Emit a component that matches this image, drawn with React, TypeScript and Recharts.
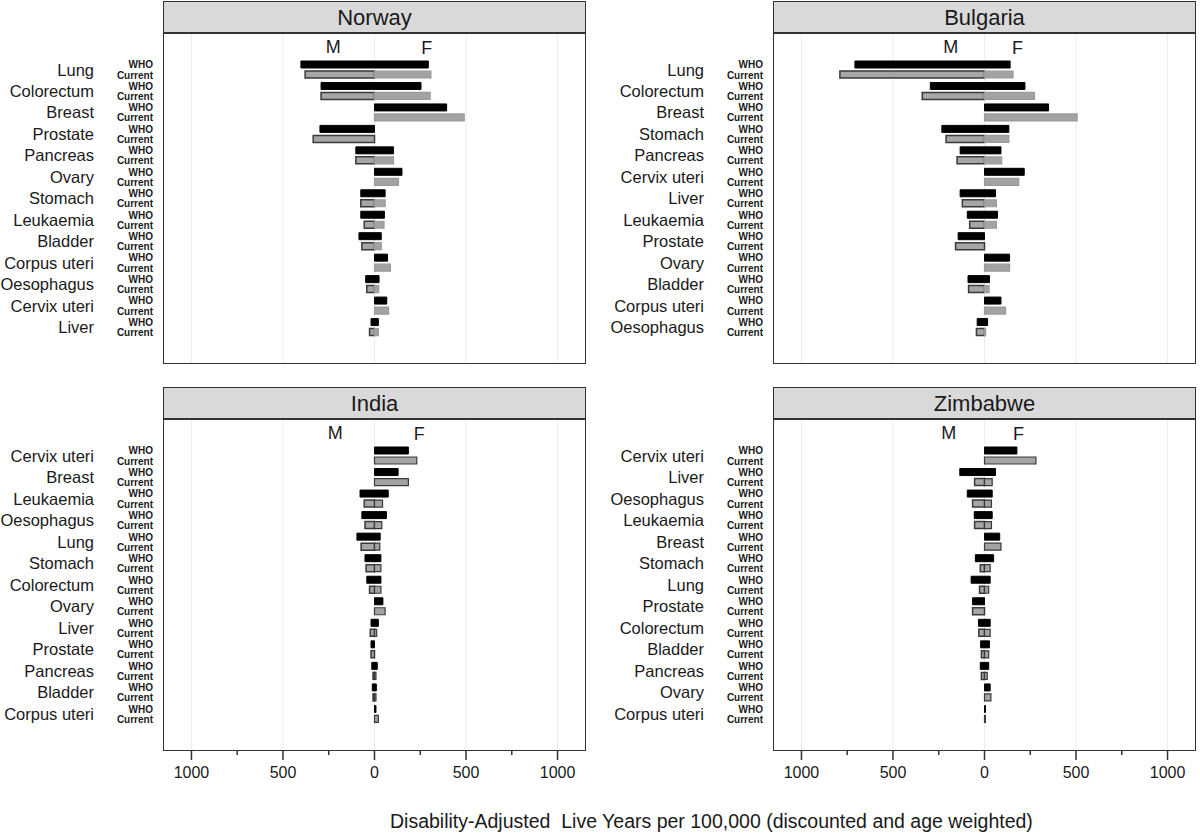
import React from 'react';
import { BarChart, Bar, XAxis, YAxis, CartesianGrid, ReferenceLine } from 'recharts';

const FONT = '"Liberation Sans", Arial, Helvetica, sans-serif';

// ---- data (DALYs per 100,000; male values stored positive, drawn to the left) ----
const norwayCancers = ['Lung', 'Colorectum', 'Breast', 'Prostate', 'Pancreas', 'Ovary', 'Stomach', 'Leukaemia', 'Bladder', 'Corpus uteri', 'Oesophagus', 'Cervix uteri', 'Liver'];
const norwayWhoM = [402, 292, 0, 298, 102, 0, 75, 75, 85, 0, 48, 0, 19];
const norwayWhoF = [294, 254, 394, 0, 104, 150, 58, 54, 37, 71, 25, 67, 21];
const norwayCurM = [379, 292, 0, 335, 102, 0, 75, 56, 69, 0, 42, 0, 27];
const norwayCurF = [308, 304, 490, 0, 104, 131, 58, 52, 37, 87, 23, 77, 21];

const bulgariaCancers = ['Lung', 'Colorectum', 'Breast', 'Stomach', 'Pancreas', 'Cervix uteri', 'Liver', 'Leukaemia', 'Prostate', 'Ovary', 'Bladder', 'Corpus uteri', 'Oesophagus'];
const bulgariaWhoM = [708, 296, 0, 233, 133, 0, 133, 94, 144, 0, 90, 0, 40];
const bulgariaWhoF = [140, 221, 350, 133, 90, 217, 60, 71, 0, 137, 27, 90, 17];
const bulgariaCurM = [790, 340, 0, 210, 150, 0, 121, 81, 158, 0, 87, 0, 44];
const bulgariaCurF = [156, 273, 506, 133, 94, 187, 65, 65, 0, 137, 25, 115, 6];

const indiaCancers = ['Cervix uteri', 'Breast', 'Leukaemia', 'Oesophagus', 'Lung', 'Stomach', 'Colorectum', 'Ovary', 'Liver', 'Prostate', 'Pancreas', 'Bladder', 'Corpus uteri'];
const indiaWhoM = [0, 0, 79, 69, 96, 52, 42, 0, 19, 19, 15, 12, 0];
const indiaWhoF = [185, 129, 75, 65, 31, 35, 35, 46, 21, 0, 15, 10, 8];
const indiaCurM = [0, 0, 56, 52, 73, 46, 27, 0, 23, 19, 8, 8, 0];
const indiaCurF = [231, 185, 44, 40, 29, 35, 35, 58, 12, 0, 8, 8, 21];

const zimbabweCancers = ['Cervix uteri', 'Liver', 'Oesophagus', 'Leukaemia', 'Breast', 'Stomach', 'Lung', 'Prostate', 'Colorectum', 'Bladder', 'Pancreas', 'Ovary', 'Corpus uteri'];
const zimbabweWhoM = [0, 135, 94, 56, 0, 50, 73, 65, 33, 21, 23, 0, 0];
const zimbabweWhoF = [177, 60, 42, 42, 83, 50, 31, 0, 31, 27, 23, 31, 5];
const zimbabweCurM = [0, 54, 65, 54, 0, 23, 27, 65, 31, 17, 17, 0, 0];
const zimbabweCurF = [281, 42, 38, 38, 90, 31, 23, 0, 31, 23, 15, 35, 5];

const xTicks = [-1000, -750, -500, -250, 0, 250, 500, 750, 1000];
const gridValues = [-1000, -500, 0, 500, 1000];
const xDomain = [-1150, 1150];
const rowLabels = ['WHO', 'Current'];
const axisTitle = 'Disability-Adjusted  Live Years per 100,000 (discounted and age weighted)';

// M / F annotation positions (data units) per panel
const mfNorway = [-226, 286];
const mfBulgaria = [-184, 180];
const mfIndia = [-215, 244];
const mfZimbabwe = [-195, 186];

const PLOT_W = 421;

type PanelProps = {
  title: string;
  cancers: string[];
  whoM: number[];
  whoF: number[];
  curM: number[];
  curF: number[];
  mf: number[];
  left: number;
  top: number;
  yAxisW: number;
  bottomAxis: boolean;
  curFStroke: string;
};

const YTick = (props: any) => {
  const { x, y, payload } = props;
  return (
    <g fontFamily={FONT}>
      <text x={x - 70} y={y + 5.8} textAnchor="end" fontSize={16.5} fill="#1a1a1a">
        {payload.value}
      </text>
      <text x={x - 11} y={y - 1.4} textAnchor="end" fontSize={10} fontWeight={700} fill="#1a1a1a">
        {rowLabels[0]}
      </text>
      <text x={x - 11} y={y + 8.8} textAnchor="end" fontSize={10} fontWeight={700} fill="#1a1a1a">
        {rowLabels[1]}
      </text>
    </g>
  );
};

const XTick = (props: any) => {
  const { x, y, payload } = props;
  const v = payload.value as number;
  const major = v % 500 === 0;
  return (
    <g>
      <line x1={x} x2={x} y1={y} y2={y + (major ? 10 : 5)} stroke="#333" strokeWidth={1.5} />
      {major && (
        <text x={x} y={y + 28} textAnchor="middle" fontSize={16} fontFamily={FONT} fill="#1a1a1a">
          {Math.abs(v)}
        </text>
      )}
    </g>
  );
};

const mfLabel = (txt: string, dy: number) => (props: any) => {
  const vb = props.viewBox || {};
  return (
    <text x={vb.x} y={(vb.y || 0) + dy} textAnchor="middle" fontSize={18} fontFamily={FONT} fill="#1a1a1a">
      {txt}
    </text>
  );
};

function Panel(p: PanelProps) {
  const data = p.cancers.map((c, i) => ({
    cancer: c,
    whoM: -p.whoM[i],
    whoF: p.whoF[i],
    curM: -p.curM[i],
    curF: p.curF[i],
  }));
  const chartW = 600;
  const marginTop = 33;
  const height = p.bottomAxis ? 414 : 370;
  const marginBottom = p.bottomAxis ? 10 : 7;
  const xAxisH = p.bottomAxis ? 40 : 0;
  const plotH = height - marginTop - marginBottom - xAxisH;
  const plotLeft = p.left + p.yAxisW;
  const plotTop = p.top + marginTop;
  const stripTop = p.top + 1;
  return (
    <>
      <div style={{ position: 'absolute', left: p.left, top: p.top }}>
        <BarChart
          width={chartW}
          height={height}
          data={data}
          layout="vertical"
          stackOffset="sign"
          barGap={3}
          margin={{ top: marginTop, right: chartW - p.yAxisW - PLOT_W, bottom: marginBottom, left: 0 }}
        >
          <CartesianGrid horizontal={false} vertical={true} verticalValues={gridValues} stroke="#ececec" strokeWidth={1} />
          <XAxis
            type="number"
            domain={xDomain}
            ticks={xTicks}
            allowDataOverflow
            hide={!p.bottomAxis}
            height={xAxisH}
            axisLine={false}
            tickLine={false}
            tickSize={0}
            tickMargin={0}
            interval={0}
            tick={<XTick />}
          />
          <YAxis
            type="category"
            dataKey="cancer"
            width={p.yAxisW}
            padding={{ top: 26, bottom: 25 }}
            axisLine={false}
            tickLine={false}
            tickSize={0}
            tickMargin={0}
            interval={0}
            tick={<YTick />}
          />
          <ReferenceLine x={p.mf[0]} stroke="none" label={mfLabel('M', 19.5)} />
          <ReferenceLine x={p.mf[1]} stroke="none" label={mfLabel('F', 21)} />
          <Bar dataKey="whoM" stackId="who" barSize={7} fill="#000" stroke="#000" strokeWidth={1} isAnimationActive={false} />
          <Bar dataKey="whoF" stackId="who" barSize={7} fill="#000" stroke="#000" strokeWidth={1} isAnimationActive={false} />
          <Bar dataKey="curM" stackId="cur" barSize={7} fill="#a6a6a6" stroke="#3a3a3a" strokeWidth={1.5} isAnimationActive={false} />
          <Bar dataKey="curF" stackId="cur" barSize={7} fill="#a3a3a3" stroke={p.curFStroke} strokeWidth={1.2} isAnimationActive={false} />
        </BarChart>
      </div>
      <div
        style={{
          position: 'absolute',
          left: plotLeft - 1,
          top: stripTop,
          width: PLOT_W + 2,
          height: plotTop - stripTop + 1,
          boxSizing: 'border-box',
          background: '#d9d9d9',
          border: '1.5px solid #333',
          display: 'flex',
          alignItems: 'center',
          justifyContent: 'center',
          fontFamily: FONT,
          fontSize: 22,
          color: '#1a1a1a',
        }}
      >
        {p.title}
      </div>
      <div
        style={{
          position: 'absolute',
          left: plotLeft - 1,
          top: plotTop - 1,
          width: PLOT_W + 2,
          height: plotH + 2,
          boxSizing: 'border-box',
          border: '1.5px solid #333',
          pointerEvents: 'none',
        }}
      />
    </>
  );
}

export default function App() {
  return (
    <div style={{ position: 'absolute', left: 0, top: 0, width: 1200, height: 835, background: '#fff', overflow: 'hidden' }}>
      <Panel title="Norway" cancers={norwayCancers} whoM={norwayWhoM} whoF={norwayWhoF} curM={norwayCurM} curF={norwayCurF}
        mf={mfNorway} left={0} top={0} yAxisW={164} bottomAxis={false} curFStroke="#9a9a9a" />
      <Panel title="Bulgaria" cancers={bulgariaCancers} whoM={bulgariaWhoM} whoF={bulgariaWhoF} curM={bulgariaCurM} curF={bulgariaCurF}
        mf={mfBulgaria} left={600} top={0} yAxisW={174} bottomAxis={false} curFStroke="#9a9a9a" />
      <Panel title="India" cancers={indiaCancers} whoM={indiaWhoM} whoF={indiaWhoF} curM={indiaCurM} curF={indiaCurF}
        mf={mfIndia} left={0} top={386} yAxisW={164} bottomAxis={true} curFStroke="#3a3a3a" />
      <Panel title="Zimbabwe" cancers={zimbabweCancers} whoM={zimbabweWhoM} whoF={zimbabweWhoF} curM={zimbabweCurM} curF={zimbabweCurF}
        mf={mfZimbabwe} left={600} top={386} yAxisW={174} bottomAxis={true} curFStroke="#3a3a3a" />
      <div
        style={{
          position: 'absolute',
          left: 390,
          top: 810,
          fontFamily: FONT,
          fontSize: 19.5,
          color: '#1a1a1a',
          whiteSpace: 'pre',
          lineHeight: '23px',
        }}
      >
        {axisTitle}
      </div>
    </div>
  );
}
